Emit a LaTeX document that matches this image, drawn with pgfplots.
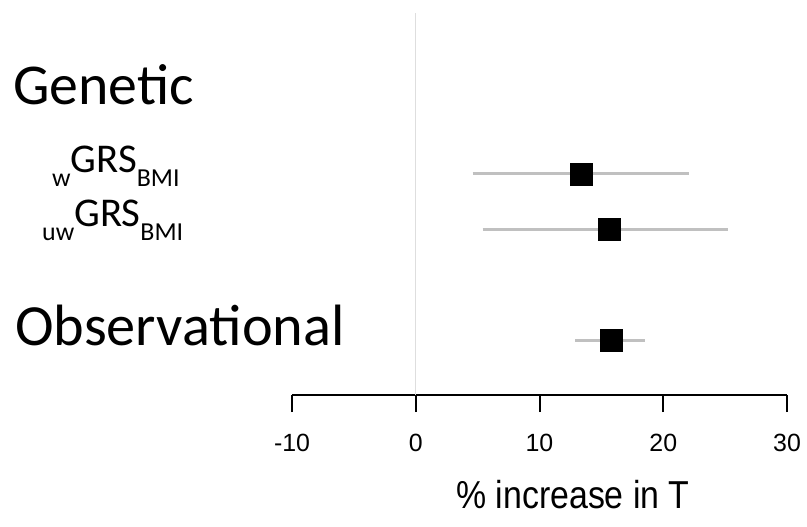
\documentclass[border=0pt]{standalone}
\usepackage{pgfplots}
\pgfplotsset{compat=1.18}
\usepackage{fontspec}
\setmainfont{Carlito}
\newfontfamily\arial{Liberation Sans}
\definecolor{cigray}{RGB}{192,192,192}
\definecolor{zerogray}{RGB}{222,222,222}
\newcommand{\sub}[1]{\raisebox{-14bp}{\fontsize{26}{26}\selectfont #1}}
\begin{document}
\begin{tikzpicture}
\begin{axis}[
    scale only axis,
    width=495bp, height=382bp,
    xmin=-10, xmax=30,
    ymin=131, ymax=513,
    axis x line*=bottom,
    axis y line=none,
    clip=false,
    xtick={-10,0,10,20,30},
    tick align=outside,
    major tick length=17bp,
    x axis line style={line width=2bp},
    xtick style={black, line width=2bp},
    /pgf/number format/assume math mode=true,
    xticklabel style={font=\arial\fontsize{25}{25}\selectfont, yshift=-19bp},
]
% zero reference line
\addplot[zerogray, line width=1.2bp] coordinates {(0,131) (0,513)};
% confidence intervals
\addplot[cigray, line width=3bp] coordinates {(4.6,352) (22.1,352)};
\addplot[cigray, line width=3bp] coordinates {(5.4,297) (25.2,297)};
\addplot[cigray, line width=3bp] coordinates {(12.9,186) (18.5,186)};
% estimates
\addplot[only marks, mark=square*, mark size=11bp, black] coordinates {(13.4,352) (15.6,297) (15.8,186)};
\coordinate (bl) at (axis cs:-33.596,0);
\coordinate (tr) at (axis cs:31.616,526);
\coordinate (tl) at (axis cs:-33.596,526);
\end{axis}
\pgfresetboundingbox
\path (bl) rectangle (tr);
\begin{scope}[every node/.style={inner sep=0pt, anchor=base west}]
\node at ([shift={(13bp,-105bp)}]tl) {\fontsize{58}{58}\selectfont Genetic};
\node at ([shift={(52bp,-173bp)}]tl) {\sub{w}\fontsize{41}{41}\selectfont GRS\sub{BMI}};
\node at ([shift={(42bp,-227bp)}]tl) {\sub{uw}\fontsize{41}{41}\selectfont GRS\sub{BMI}};
\node at ([shift={(15bp,-345bp)}]tl) {\fontsize{58.5}{58.5}\selectfont Observational};
\node[anchor=base] at ([shift={(573bp,-508bp)}]tl) {\scalebox{1}[1.15]{\arial\fontsize{34}{34}\selectfont \% increase in T}};
\end{scope}
\end{tikzpicture}
\end{document}
